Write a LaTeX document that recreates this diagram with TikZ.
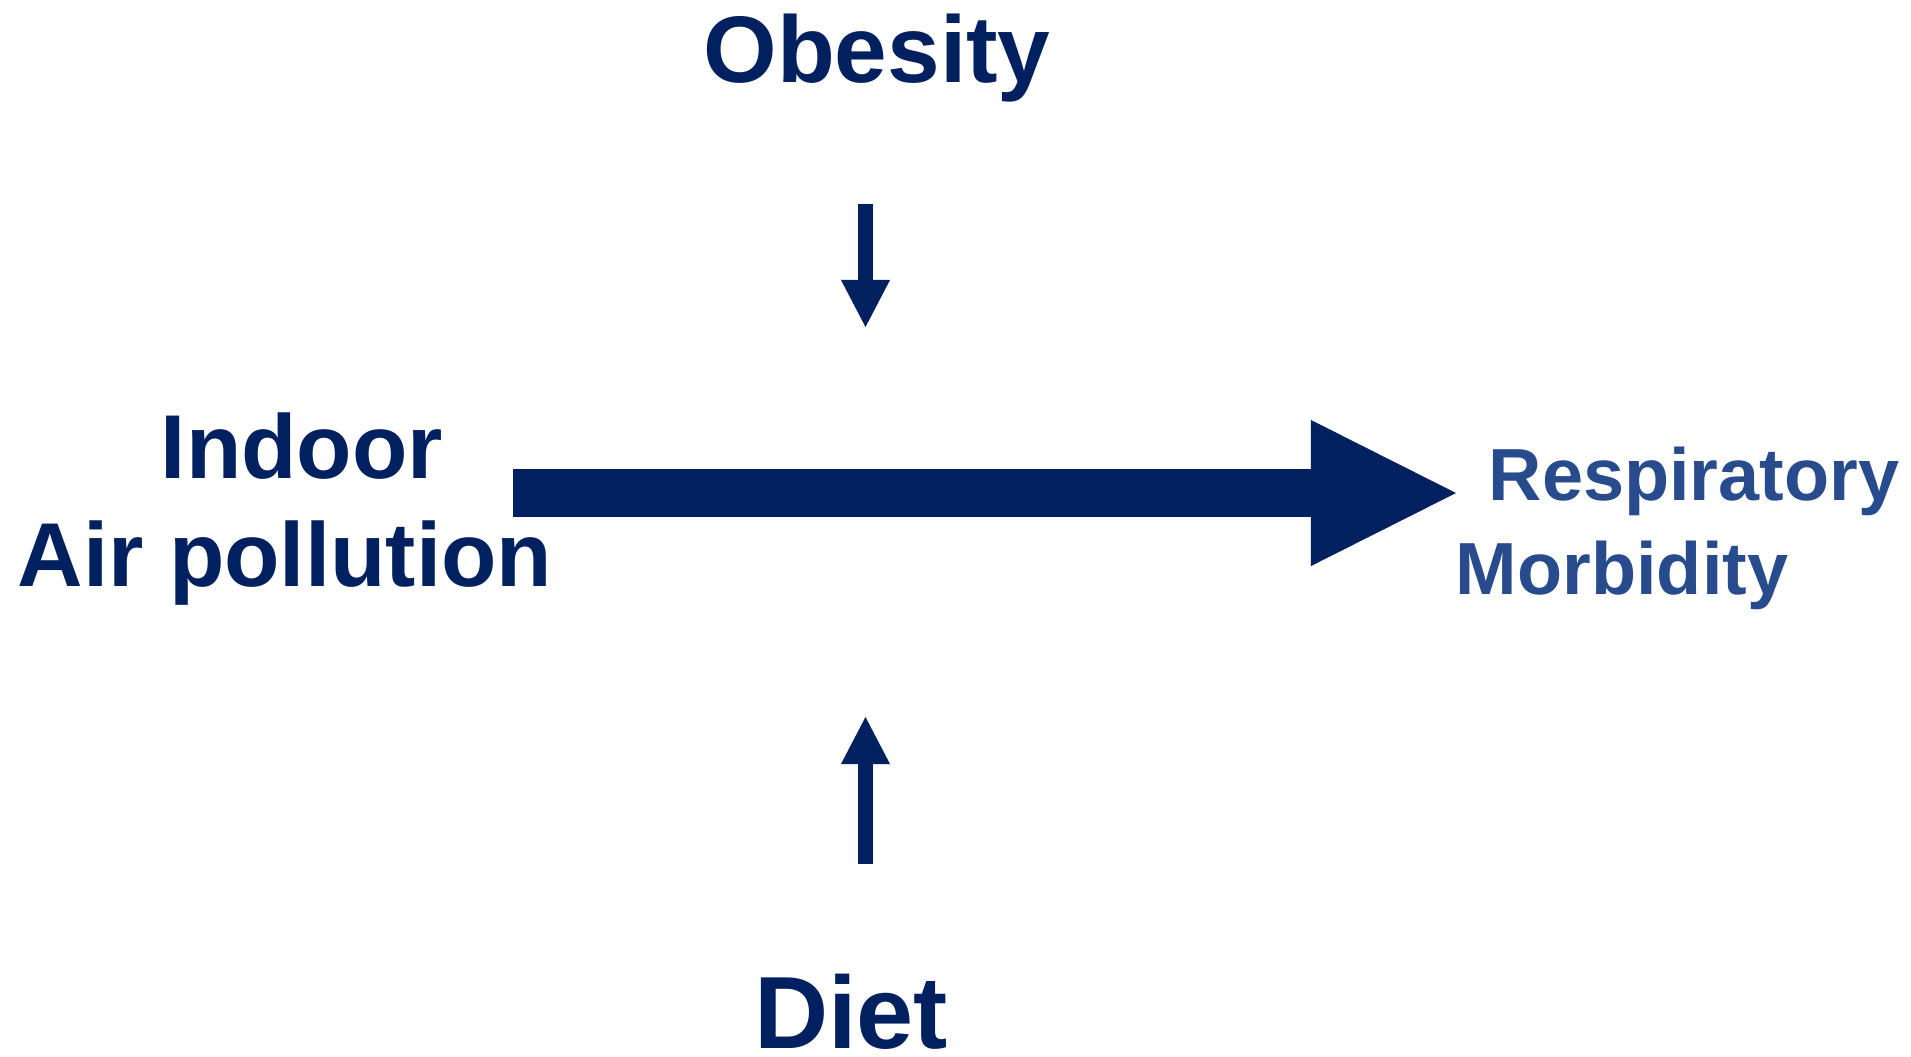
\documentclass[tikz,border=0pt]{standalone}
\usepackage{fontspec}
\setmainfont{Liberation Sans}
\usetikzlibrary{arrows.meta}
\definecolor{navy}{RGB}{0,32,96}
\definecolor{midblue}{RGB}{39,75,141}
\tikzset{%
    factor/.style={%
        anchor=base, inner sep=0pt, text=navy, font=\bfseries
    }
}
\tikzset{%
    outcome/.style={%
        anchor=base, inner sep=0pt, text=midblue, font=\bfseries\fontsize{21}{25}\selectfont
    }
}
\tikzset{%
    bigarrow/.style={%
        draw=navy, line width=0.48cm, -{Triangle[length=1.45cm, width=1.46cm, line width=0pt]}
    }
}
\tikzset{%
    smallarrow/.style={%
        draw=navy, line width=0.155cm, -{Triangle[length=0.47cm, width=0.49cm, line width=0pt]}
    }
}
\begin{document}
\begin{tikzpicture}[x=0.01cm, y=-0.01cm]
  \useasboundingbox (0,0) rectangle (1911,1056);

  % moderators
  \node[factor, font=\bfseries\fontsize{26.9}{32}\selectfont] (Ob) at (877,82) {Obesity};
  \node[factor, font=\bfseries\fontsize{29.2}{35}\selectfont] (Di) at (851,1048) {Diet};

  % exposure
  \node[factor, font=\bfseries\fontsize{25.8}{31}\selectfont] (In) at (302,478) {Indoor};
  \node[factor, font=\bfseries\fontsize{25.8}{31}\selectfont] (AP) at (285,586) {Air pollution};

  % outcome
  \node[outcome] (Re) at (1694,500) {Respiratory};
  \node[outcome] (Mo) at (1622,594) {Morbidity};

  % arrow ends
  \coordinate (APtail) at (513,493);
  \coordinate (Rehead) at (1456,493);
  \coordinate (Obtail) at (865.5,204);
  \coordinate (Obhead) at (865.5,327);
  \coordinate (Ditail) at (865.5,864);
  \coordinate (Dihead) at (865.5,717);

  \draw[bigarrow] (APtail) -- (Rehead);
  \draw[smallarrow] (Obtail) -- (Obhead);
  \draw[smallarrow] (Ditail) -- (Dihead);
\end{tikzpicture}
\end{document}
